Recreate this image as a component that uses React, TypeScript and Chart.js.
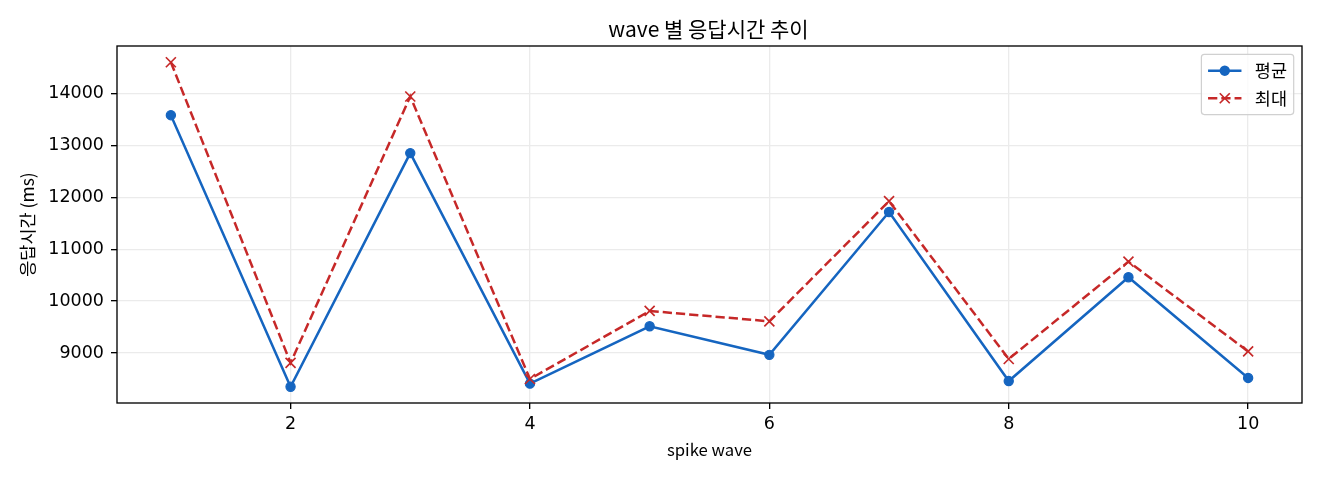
import React, { useEffect, useRef } from "react";
import { Chart, registerables } from "chart.js";

Chart.register(...registerables);

// ---- data ----
const waves = [1, 2, 3, 4, 5, 6, 7, 8, 9, 10];
const meanValues = [13580, 8350, 12850, 8410, 9515, 8965, 11715, 8460, 10460, 8520];
const maxValues = [14600, 8810, 13940, 8500, 9810, 9610, 11925, 8885, 10760, 9030];
const xTicks = [2, 4, 6, 8, 10];
const yTicks = [9000, 10000, 11000, 12000, 13000, 14000];
const seriesLabels = ["평균", "최대"];
const titleText = "wave 별 응답시간 추이";
const xLabel = "spike wave";
const yLabel = "응답시간 (ms)";

const BLUE = "#1565c0";
const RED = "#c62828";
const KFONT = "'Noto Sans CJK KR', 'Noto Sans', sans-serif";
const NFONT = "'DejaVu Sans', 'Noto Sans CJK KR', sans-serif";

// matplotlib-like 5% margins
const allY = [...meanValues, ...maxValues];
const yLo = Math.min(...allY);
const yHi = Math.max(...allY);
const xLo = Math.min(...waves);
const xHi = Math.max(...waves);
const yPad = (yHi - yLo) * 0.05;
const xPad = (xHi - xLo) * 0.05;

const decorPlugin = {
  id: "decor",
  afterDatasetsDraw(chart: any) {
    const { ctx, chartArea: a } = chart;
    ctx.save();
    // spines
    ctx.strokeStyle = "#000";
    ctx.lineWidth = 1.33;
    ctx.setLineDash([]);
    ctx.strokeRect(a.left, a.top, a.right - a.left, a.bottom - a.top);
    // title
    ctx.fillStyle = "#000";
    ctx.font = `21px ${KFONT}`;
    ctx.textAlign = "center";
    ctx.textBaseline = "alphabetic";
    ctx.fillText(titleText, (a.left + a.right) / 2 - 1, a.top - 9.5);

    // legend
    const fs = 16.7;
    ctx.font = `17.5px ${KFONT}`;
    const pad = fs * 0.4;
    const handleLen = fs * 2;
    const textPad = fs * 0.8;
    const rowH = 27.6;
    const datasets = chart.data.datasets;
    const textW = Math.max(...datasets.map((d: any) => ctx.measureText(d.label).width));
    const boxW = pad + handleLen + textPad + textW + pad;
    const boxH = pad * 2 + rowH * datasets.length - 8.3;
    const bx = a.right - 8.3 - boxW;
    const by = a.top + 8.3;
    ctx.beginPath();
    ctx.roundRect(bx, by, boxW, boxH, 3);
    ctx.fillStyle = "rgba(255,255,255,0.8)";
    ctx.fill();
    ctx.strokeStyle = "#d0d0d0";
    ctx.lineWidth = 1.2;
    ctx.stroke();

    datasets.forEach((d: any, i: number) => {
      const cy = by + pad + 9.7 + i * rowH;
      const x0 = bx + pad;
      const x1 = x0 + handleLen;
      const cx = (x0 + x1) / 2;
      ctx.strokeStyle = d.borderColor;
      ctx.lineWidth = d.borderWidth;
      ctx.setLineDash(d.borderDash || []);
      ctx.beginPath();
      ctx.moveTo(x0, cy);
      ctx.lineTo(x1, cy);
      ctx.stroke();
      ctx.setLineDash([]);
      if (d.pointStyle === "circle") {
        ctx.fillStyle = d.pointBackgroundColor;
        ctx.beginPath();
        ctx.arc(cx, cy, 5.2, 0, Math.PI * 2);
        ctx.fill();
      } else {
        ctx.strokeStyle = d.pointBorderColor;
        ctx.lineWidth = d.pointBorderWidth;
        ctx.beginPath();
        ctx.moveTo(cx - 5, cy - 5);
        ctx.lineTo(cx + 5, cy + 5);
        ctx.moveTo(cx - 5, cy + 5);
        ctx.lineTo(cx + 5, cy - 5);
        ctx.stroke();
      }
      ctx.fillStyle = "#000";
      ctx.textAlign = "left";
      ctx.textBaseline = "middle";
      ctx.fillText(d.label, x1 + textPad, cy);
    });
    ctx.restore();
  },
};

export default function App() {
  const ref = useRef<HTMLCanvasElement>(null);
  useEffect(() => {
    const chart = new Chart(ref.current as HTMLCanvasElement, {
      type: "line",
      data: {
        datasets: [
          {
            label: seriesLabels[0],
            data: waves.map((w, i) => ({ x: w, y: meanValues[i] })),
            borderColor: BLUE,
            backgroundColor: BLUE,
            borderWidth: 2.5,
            pointStyle: "circle",
            pointRadius: 4.6,
            pointBackgroundColor: BLUE,
            pointBorderColor: BLUE,
            pointBorderWidth: 1.2,
            tension: 0,
            order: 1,
          } as any,
          {
            label: seriesLabels[1],
            data: waves.map((w, i) => ({ x: w, y: maxValues[i] })),
            borderColor: RED,
            backgroundColor: RED,
            borderWidth: 2.5,
            borderDash: [9.25, 4],
            pointStyle: "crossRot",
            pointRadius: 7.07,
            pointBackgroundColor: RED,
            pointBorderColor: RED,
            pointBorderWidth: 1.67,
            tension: 0,
            order: 0,
          } as any,
        ],
      },
      options: {
        animation: false,
        responsive: false,
        maintainAspectRatio: false,
        events: [],
        layout: { padding: { top: 46, right: 18, left: 0, bottom: 0 } },
        plugins: {
          legend: { display: false },
          tooltip: { enabled: false },
          title: { display: false },
        },
        scales: {
          x: {
            type: "linear",
            min: xLo - xPad,
            max: xHi + xPad,
            afterBuildTicks: (s: any) => {
              s.ticks = xTicks.map((v) => ({ value: v }));
            },
            afterFit: (s: any) => {
              s.height = 77;
            },
            ticks: {
              autoSkip: false,
              maxRotation: 0,
              padding: 5,
              color: "#000",
              font: { family: NFONT, size: 17.5 },
              callback: (v: any) => String(v),
            },
            grid: {
              color: "#ebebeb",
              lineWidth: 1.33,
              drawTicks: true,
              tickLength: 6,
              tickColor: "#000",
              tickWidth: 1.33,
            },
            border: { display: false },
            title: {
              display: true,
              text: xLabel,
              color: "#000",
              font: { family: KFONT, size: 16.7 },
              padding: { top: 0, bottom: 20 },
            },
          },
          y: {
            type: "linear",
            min: yLo - yPad,
            max: yHi + yPad,
            afterBuildTicks: (s: any) => {
              s.ticks = yTicks.map((v) => ({ value: v }));
            },
            afterFit: (s: any) => {
              s.width = 117;
            },
            ticks: {
              autoSkip: false,
              padding: 7,
              color: "#000",
              font: { family: NFONT, size: 17.5 },
              callback: (v: any) => String(v),
            },
            grid: {
              color: "#ebebeb",
              lineWidth: 1.33,
              drawTicks: true,
              tickLength: 6,
              tickColor: "#000",
              tickWidth: 1.33,
            },
            border: { display: false },
            title: {
              display: true,
              text: yLabel,
              color: "#000",
              font: { family: KFONT, size: 17.5 },
              padding: { top: 16.5, bottom: 0 },
            },
          },
        },
      },
      plugins: [decorPlugin],
    } as any);
    return () => chart.destroy();
  }, []);
  return (
    <div style={{ position: "absolute", left: 0, top: 0, width: 1320, height: 480 }}>
      <canvas ref={ref} width={1320} height={480} style={{ width: 1320, height: 480, display: "block" }} />
    </div>
  );
}
